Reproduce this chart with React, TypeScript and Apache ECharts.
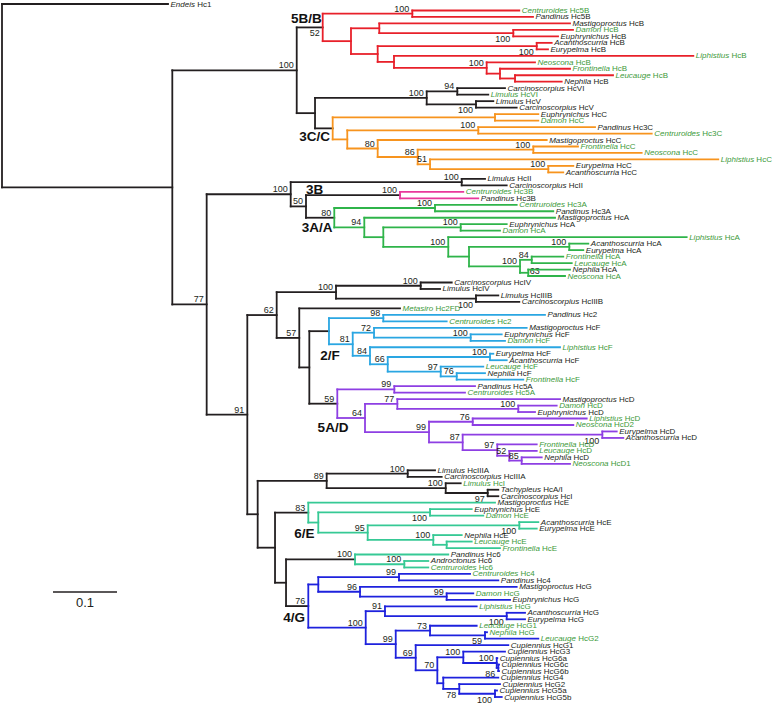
import React, { useEffect, useRef } from "react";
import * as echarts from "echarts";

// Internal nodes: [id, parent id, depth from root (substitutions/site), bootstrap support, support label side]
const nodes: [string, string, number, number, string][] = [
  ["root", "", 0, 0, ""],
  ["A", "root", 0.2661, 0, ""],
  ["B", "A", 0.4605, 100, ""],
  ["BB", "B", 0.5011, 52, "b"],
  ["b1", "BB", 0.6411, 100, ""],
  ["b2", "BB", 0.5453, 0, ""],
  ["b3", "b2", 0.5895, 0, ""],
  ["b4", "b3", 0.7989, 100, "b"],
  ["b5", "b2", 0.587, 0, ""],
  ["b6", "b5", 0.8355, 100, "b"],
  ["b7", "b5", 0.6125, 0, ""],
  ["b8", "b7", 0.7573, 100, ""],
  ["b9", "b8", 0.7781, 0, ""],
  ["b10", "b9", 0.8016, 0, ""],
  ["C", "B", 0.4891, 0, ""],
  ["c1", "C", 0.6636, 100, ""],
  ["c2", "c1", 0.7114, 94, ""],
  ["c3", "c1", 0.7406, 100, "b"],
  ["CC", "C", 0.5167, 0, ""],
  ["c4", "CC", 0.7703, 0, ""],
  ["c5", "CC", 0.5395, 0, ""],
  ["c6", "c5", 0.7442, 100, ""],
  ["c7", "c5", 0.587, 80, ""],
  ["c8", "c7", 0.6495, 86, ""],
  ["c9", "c8", 0.8302, 100, ""],
  ["c10", "c8", 0.6688, 51, ""],
  ["c11", "c10", 0.8536, 100, ""],
  ["N77", "A", 0.3198, 77, ""],
  ["D", "N77", 0.4511, 100, ""],
  ["d1", "D", 0.7183, 100, ""],
  ["d2", "D", 0.475, 50, ""],
  ["B3", "d2", 0.6219, 100, ""],
  ["AA", "d2", 0.5192, 80, ""],
  ["a1", "AA", 0.6766, 100, ""],
  ["a2", "AA", 0.5661, 94, ""],
  ["a3", "a2", 0.5958, 0, ""],
  ["a4", "a3", 0.7167, 100, ""],
  ["a5", "a3", 0.6973, 100, ""],
  ["a6", "a5", 0.7297, 0, ""],
  ["a7", "a6", 0.8864, 100, ""],
  ["a8", "a6", 0.8094, 100, ""],
  ["a9", "a8", 0.8277, 84, ""],
  ["a10", "a8", 0.8223, 63, "r"],
  ["N91", "N77", 0.3833, 91, ""],
  ["N62", "N91", 0.4292, 62, ""],
  ["e1", "N62", 0.5219, 100, ""],
  ["e2", "e1", 0.6542, 100, ""],
  ["e3", "e1", 0.7406, 100, "b"],
  ["N57", "N62", 0.4645, 57, ""],
  ["e4", "N57", 0.4802, 0, ""],
  ["FF", "e4", 0.5109, 0, ""],
  ["f1", "FF", 0.5958, 98, ""],
  ["f2", "FF", 0.548, 81, ""],
  ["f3", "f2", 0.5813, 72, ""],
  ["f4", "f3", 0.7323, 100, ""],
  ["f5", "f2", 0.575, 84, ""],
  ["f6", "f5", 0.6027, 66, ""],
  ["f7", "f6", 0.7625, 100, ""],
  ["f8", "f6", 0.6855, 97, ""],
  ["f9", "f8", 0.7105, 76, ""],
  ["DD", "e4", 0.5239, 59, ""],
  ["g1", "DD", 0.613, 99, ""],
  ["g2", "DD", 0.5672, 64, ""],
  ["g3", "g2", 0.6177, 77, ""],
  ["g4", "g3", 0.8067, 100, ""],
  ["g5", "g2", 0.6672, 99, ""],
  ["g6", "g5", 0.7355, 76, ""],
  ["g7", "g5", 0.7198, 87, ""],
  ["g8", "g7", 0.938, 100, "b"],
  ["g9", "g7", 0.7739, 97, ""],
  ["g10", "g9", 0.7927, 52, ""],
  ["g11", "g10", 0.812, 85, ""],
  ["E", "N91", 0.3995, 0, ""],
  ["h0", "E", 0.5073, 89, ""],
  ["h1", "h0", 0.6339, 100, ""],
  ["h2", "h0", 0.6933, 100, ""],
  ["h3", "h2", 0.7589, 97, "b"],
  ["F", "E", 0.4266, 0, ""],
  ["EE", "F", 0.4786, 83, ""],
  ["i1", "EE", 0.4942, 0, ""],
  ["i2", "i1", 0.6688, 100, "b"],
  ["i3", "i1", 0.5714, 95, ""],
  ["i4", "i3", 0.8083, 100, "b"],
  ["i5", "i3", 0.6739, 100, ""],
  ["i6", "i5", 0.6948, 0, ""],
  ["G", "F", 0.4438, 0, ""],
  ["H6", "G", 0.5516, 100, ""],
  ["j1", "H6", 0.6286, 100, ""],
  ["GG", "G", 0.4786, 76, ""],
  ["k1", "GG", 0.4942, 0, ""],
  ["k2", "k1", 0.6203, 99, ""],
  ["k3", "k1", 0.5594, 96, ""],
  ["k4", "k3", 0.6948, 99, ""],
  ["k5", "GG", 0.5683, 100, ""],
  ["k6", "k5", 0.5984, 91, ""],
  ["k7", "k6", 0.7886, 100, "b"],
  ["k8", "k5", 0.6152, 99, ""],
  ["k9", "k8", 0.6688, 73, ""],
  ["k10", "k9", 0.7547, 59, "b"],
  ["k11", "k8", 0.6464, 69, ""],
  ["k12", "k11", 0.6802, 70, ""],
  ["k13", "k12", 0.7208, 100, ""],
  ["k14", "k13", 0.773, 100, ""],
  ["k15", "k14", 0.7755, 86, "b"],
  ["k16", "k12", 0.6895, 0, ""],
  ["k17", "k16", 0.7145, 78, "b"],
  ["k18", "k17", 0.7703, 100, "b"],
];

// Leaves in top-to-bottom order: [genus, protein, parent id, depth from root, green label (1) or black (0)]
const leaves: [string, string, string, number, number][] = [
  ["Endeis", "Hc1", "root", 0.2594, 0],
  ["Centruroides", "Hc5B", "b1", 0.8083, 1],
  ["Pandinus", "Hc5B", "b1", 0.8297, 0],
  ["Mastigoproctus", "HcB", "b3", 0.8875, 0],
  ["Damon", "HcB", "b4", 0.8922, 1],
  ["Euphrynichus", "HcB", "b4", 0.8688, 0],
  ["Acanthoscurria", "HcB", "b6", 0.8589, 0],
  ["Eurypelma", "HcB", "b6", 0.8531, 0],
  ["Liphistius", "HcB", "b7", 1.0802, 1],
  ["Neoscona", "HcB", "b8", 0.8328, 1],
  ["Frontinella", "HcB", "b9", 0.8875, 1],
  ["Leucauge", "HcB", "b10", 0.9547, 1],
  ["Nephila", "HcB", "b10", 0.8745, 0],
  ["Carcinoscorpius", "HcVI", "c2", 0.7859, 0],
  ["Limulus", "HcVI", "c2", 0.7598, 1],
  ["Limulus", "HcV", "c3", 0.7677, 0],
  ["Carcinoscorpius", "HcV", "c3", 0.8042, 0],
  ["Euphrynichus", "HcC", "c4", 0.838, 0],
  ["Damon", "HcC", "c4", 0.838, 1],
  ["Pandinus", "Hc3C", "c6", 0.9266, 0],
  ["Centruroides", "Hc3C", "c6", 1.0152, 1],
  ["Mastigoproctus", "HcC", "c7", 0.8511, 0],
  ["Frontinella", "HcC", "c9", 0.9, 1],
  ["Neoscona", "HcC", "c9", 0.9995, 1],
  ["Liphistius", "HcC", "c10", 1.1192, 1],
  ["Eurypelma", "HcC", "c11", 0.8927, 0],
  ["Acanthoscurria", "HcC", "c11", 0.877, 0],
  ["Limulus", "HcII", "d1", 0.7547, 0],
  ["Carcinoscorpius", "HcII", "d1", 0.7886, 0],
  ["Centruroides", "Hc3B", "B3", 0.7208, 1],
  ["Pandinus", "Hc3B", "B3", 0.7442, 0],
  ["Centruroides", "Hc3A", "a1", 0.8042, 1],
  ["Pandinus", "Hc3A", "a1", 0.8614, 0],
  ["Mastigoproctus", "HcA", "a2", 0.8641, 0],
  ["Euphrynichus", "HcA", "a4", 0.7886, 0],
  ["Damon", "HcA", "a4", 0.7781, 1],
  ["Liphistius", "HcA", "a5", 1.0698, 1],
  ["Acanthoscurria", "HcA", "a7", 0.9161, 0],
  ["Eurypelma", "HcA", "a7", 0.9083, 0],
  ["Frontinella", "HcA", "a9", 0.877, 1],
  ["Leucauge", "HcA", "a9", 0.8902, 1],
  ["Nephila", "HcA", "a10", 0.8875, 0],
  ["Neoscona", "HcA", "a10", 0.8797, 1],
  ["Carcinoscorpius", "HcIV", "e2", 0.7027, 0],
  ["Limulus", "HcIV", "e2", 0.6844, 0],
  ["Limulus", "HcIIIB", "e3", 0.7755, 0],
  ["Carcinoscorpius", "HcIIIB", "e3", 0.8083, 0],
  ["Metasiro", "Hc2FD", "N57", 0.6219, 1],
  ["Pandinus", "Hc2", "f1", 0.8484, 0],
  ["Centruroides", "Hc2", "f1", 0.6948, 1],
  ["Mastigoproctus", "HcF", "f3", 0.8198, 0],
  ["Euphrynichus", "HcF", "f4", 0.7808, 0],
  ["Damon", "HcF", "f4", 0.7859, 1],
  ["Liphistius", "HcF", "f5", 0.8719, 1],
  ["Eurypelma", "HcF", "f7", 0.7677, 0],
  ["Acanthoscurria", "HcF", "f7", 0.7886, 0],
  ["Leucauge", "HcF", "f8", 0.752, 1],
  ["Nephila", "HcF", "f9", 0.7547, 0],
  ["Frontinella", "HcF", "f9", 0.8145, 1],
  ["Pandinus", "Hc5A", "g1", 0.7391, 0],
  ["Centruroides", "Hc5A", "g1", 0.7234, 1],
  ["Mastigoproctus", "HcD", "g3", 0.8719, 0],
  ["Damon", "HcD", "g4", 0.8667, 1],
  ["Euphrynichus", "HcD", "g4", 0.8328, 0],
  ["Liphistius", "HcD", "g6", 0.9136, 1],
  ["Neoscona", "HcD2", "g6", 0.8927, 1],
  ["Eurypelma", "HcD", "g8", 0.9605, 0],
  ["Acanthoscurria", "HcD", "g8", 0.9708, 0],
  ["Frontinella", "HcD", "g9", 0.8355, 1],
  ["Leucauge", "HcD", "g10", 0.8355, 1],
  ["Nephila", "HcD", "g11", 0.8433, 0],
  ["Neoscona", "HcD1", "g11", 0.8875, 1],
  ["Limulus", "HcIIIA", "h1", 0.6766, 0],
  ["Carcinoscorpius", "HcIIIA", "h1", 0.687, 0],
  ["Limulus", "HcI", "h2", 0.7167, 1],
  ["Tachypleus", "HcA/I", "h3", 0.7755, 0],
  ["Carcinoscorpius", "HcI", "h3", 0.7755, 0],
  ["Mastigoproctus", "HcE", "EE", 0.7703, 0],
  ["Euphrynichus", "HcE", "i2", 0.7339, 0],
  ["Damon", "HcE", "i2", 0.752, 1],
  ["Acanthoscurria", "HcE", "i4", 0.838, 0],
  ["Eurypelma", "HcE", "i4", 0.8355, 0],
  ["Nephila", "HcE", "i5", 0.7183, 0],
  ["Leucauge", "HcE", "i6", 0.7339, 1],
  ["Frontinella", "HcE", "i6", 0.7781, 1],
  ["Pandinus", "Hc6", "H6", 0.6973, 0],
  ["Androctonus", "Hc6", "j1", 0.6661, 0],
  ["Centruroides", "Hc6", "j1", 0.6661, 1],
  ["Centruroides", "Hc4", "k2", 0.7313, 1],
  ["Pandinus", "Hc4", "k2", 0.7755, 0],
  ["Mastigoproctus", "HcG", "k3", 0.8042, 0],
  ["Damon", "HcG", "k4", 0.7364, 1],
  ["Euphrynichus", "HcG", "k4", 0.7938, 0],
  ["Liphistius", "HcG", "k6", 0.7417, 1],
  ["Acanthoscurria", "HcG", "k7", 0.8172, 0],
  ["Eurypelma", "HcG", "k7", 0.8172, 0],
  ["Leucauge", "HcG1", "k9", 0.7417, 1],
  ["Nephila", "HcG", "k10", 0.7578, 1],
  ["Leucauge", "HcG2", "k10", 0.838, 1],
  ["Cupiennius", "HcG1", "k11", 0.7911, 0],
  ["Cupiennius", "HcG3", "k13", 0.7859, 0],
  ["Cupiennius", "HcG6a", "k14", 0.7739, 0],
  ["Cupiennius", "HcG6c", "k15", 0.7766, 0],
  ["Cupiennius", "HcG6b", "k15", 0.7766, 0],
  ["Cupiennius", "HcG4", "k16", 0.7755, 0],
  ["Cupiennius", "HcG2", "k17", 0.7781, 0],
  ["Cupiennius", "HcG5a", "k18", 0.7734, 0],
  ["Cupiennius", "HcG5b", "k18", 0.7808, 0],
];

// Clades: [node id, clade name]
const clades: [string, string][] = [
  ["BB", "5B/B"],
  ["CC", "3C/C"],
  ["B3", "3B"],
  ["AA", "3A/A"],
  ["FF", "2/F"],
  ["DD", "5A/D"],
  ["EE", "6/E"],
  ["H6", ""],
  ["GG", "4/G"],
];

// Scale bar: [start depth, length, leaf row]
const scaleBar: [number, number, number] = [0.0797, 0.1, 90.78];

// ---- styles ----
const cladeColors: Record<string, string> = {
  BB: "#e8202a",
  CC: "#f7941e",
  B3: "#e8379b",
  AA: "#2fb44a",
  FF: "#2aa6e2",
  DD: "#8e3fe3",
  EE: "#36c995",
  H6: "#36c995",
  GG: "#1e22dd",
};
// clade label centre offsets (px) from the clade node
const cladeLabelOffsets: Record<string, [number, number]> = {
  BB: [-16.4, -8.5],
  CC: [-18, 8.3],
  B3: [-85.3, -5.6],
  AA: [-17.1, 9.5],
  FF: [1, 24.6],
  DD: [-4.3, 23.4],
  EE: [-4, 20.4],
  GG: [-14.1, 11],
};
const BLACK = "#231f20";
const GREEN_TEXT = "#3d9a3a";
const FONT = "'Liberation Sans', Arial, Helvetica, sans-serif";
const LW = 1.8;

type TNode = {
  id: string;
  parent: TNode | null;
  depth: number;
  support: number;
  side: string;
  children: TNode[];
  y: number;
  minLeaf: number;
  leaf: [string, string, number] | null;
  color: string;
};

function buildTree() {
  const map: Record<string, TNode> = {};
  const all: TNode[] = [];
  nodes.forEach(([id, , depth, support, side]) => {
    const n: TNode = { id, parent: null, depth, support, side, children: [], y: 0, minLeaf: Infinity, leaf: null, color: BLACK };
    map[id] = n;
    all.push(n);
  });
  nodes.forEach(([id, parent]) => {
    if (parent) {
      map[id].parent = map[parent];
      map[parent].children.push(map[id]);
    }
  });
  leaves.forEach(([genus, prot, parent, depth, green], i) => {
    const n: TNode = { id: "L" + i, parent: map[parent], depth, support: 0, side: "", children: [], y: i, minLeaf: i, leaf: [genus, prot, green], color: BLACK };
    map[parent].children.push(n);
    all.push(n);
  });
  const cladeColorMap: Record<string, string> = {};
  clades.forEach(([id]) => (cladeColorMap[id] = cladeColors[id]));
  const calc = (n: TNode): void => {
    n.color = cladeColorMap[n.id] || (n.parent ? n.parent.color : BLACK);
    if (n.leaf) return;
    n.children.forEach(calc);
    n.children.sort((a, b) => a.minLeaf - b.minLeaf);
    n.minLeaf = n.children[0].minLeaf;
    n.y = (n.children[0].y + n.children[n.children.length - 1].y) / 2;
  };
  calc(map.root);
  const cladeNames: Record<string, string> = {};
  clades.forEach(([id, name]) => (cladeNames[id] = name));
  return { all, cladeNames };
}

export default function App() {
  const ref = useRef<HTMLDivElement>(null);
  useEffect(() => {
    if (!ref.current) return;
    const chart = echarts.init(ref.current, undefined, { renderer: "svg" });
    const { all, cladeNames } = buildTree();

    const renderNode = (params: any, api: any) => {
      const n = all[params.dataIndex];
      const els: any[] = [];
      const p = api.coord([n.depth, n.y]);
      if (n.parent) {
        const q = api.coord([n.parent.depth, n.y]);
        els.push({
          type: "line",
          shape: { x1: q[0], y1: q[1], x2: p[0], y2: p[1] },
          style: { stroke: n.parent.color, lineWidth: LW, lineCap: "square" },
        });
      }
      if (!n.leaf && n.children.length) {
        const a = api.coord([n.depth, n.children[0].y]);
        const b = api.coord([n.depth, n.children[n.children.length - 1].y]);
        els.push({
          type: "line",
          shape: { x1: a[0], y1: a[1], x2: b[0], y2: b[1] },
          style: { stroke: n.color, lineWidth: LW, lineCap: "square" },
        });
      }
      if (n.leaf) {
        const fill = n.leaf[2] ? GREEN_TEXT : BLACK;
        els.push({
          type: "text",
          x: p[0] + 2.5,
          y: p[1],
          style: {
            text: "{i|" + n.leaf[0] + "} " + n.leaf[1],
            fill,
            fontSize: 8,
            fontFamily: FONT,
            align: "left",
            verticalAlign: "middle",
            textAlign: "left",
            textVerticalAlign: "middle",
            rich: { i: { fontStyle: "italic", fontSize: 8, fontFamily: FONT, fill } },
          },
        });
      }
      if (n.support) {
        let x = p[0] - 3;
        let y = p[1] - 0.5;
        let align = "right";
        let va = "bottom";
        if (n.side === "b") {
          y = p[1] + 1.5;
          va = "top";
        } else if (n.side === "r") {
          x = p[0] + 1.5;
          y = p[1] - 1.5;
          align = "left";
          va = "middle";
        }
        els.push({
          type: "text",
          x,
          y,
          style: {
            text: String(n.support),
            fill: BLACK,
            fontSize: 9,
            fontFamily: FONT,
            align,
            verticalAlign: va,
            textAlign: align,
            textVerticalAlign: va,
          },
        });
      }
      if (cladeNames[n.id]) {
        const off = cladeLabelOffsets[n.id] || [0, 0];
        els.push({
          type: "text",
          x: p[0] + off[0],
          y: p[1] + off[1],
          style: {
            text: cladeNames[n.id],
            fill: "#111",
            fontSize: 13.5,
            fontWeight: "bold",
            fontFamily: FONT,
            align: "center",
            verticalAlign: "middle",
            textAlign: "center",
            textVerticalAlign: "middle",
          },
        });
      }
      return { type: "group", children: els };
    };

    const renderScale = (params: any, api: any) => {
      const a = api.coord([scaleBar[0], scaleBar[2]]);
      const b = api.coord([scaleBar[0] + scaleBar[1], scaleBar[2]]);
      return {
        type: "group",
        children: [
          {
            type: "line",
            shape: { x1: a[0], y1: a[1], x2: b[0], y2: b[1] },
            style: { stroke: BLACK, lineWidth: 1.6 },
          },
          {
            type: "text",
            x: (a[0] + b[0]) / 2,
            y: a[1] + 11,
            style: {
              text: String(scaleBar[1]),
              fill: BLACK,
              fontSize: 13,
              fontFamily: FONT,
              align: "center",
              verticalAlign: "middle",
              textAlign: "center",
              textVerticalAlign: "middle",
            },
          },
        ],
      };
    };

    chart.setOption({
      animation: false,
      backgroundColor: "#fff",
      grid: { left: 2, right: 0, top: 4, bottom: 7 },
      xAxis: { type: "value", min: 0, max: 1.2125, show: false },
      yAxis: { type: "value", min: 0, max: leaves.length - 1, inverse: true, show: false },
      series: [
        {
          type: "custom",
          silent: true,
          clip: false,
          renderItem: renderNode,
          encode: { x: 0, y: 1 },
          data: all.map((n) => [n.depth, n.y]),
        },
        {
          type: "custom",
          silent: true,
          clip: false,
          renderItem: renderScale,
          encode: { x: 0, y: 1 },
          data: [[scaleBar[0], scaleBar[2]]],
        },
      ],
    });
    return () => chart.dispose();
  }, []);
  return (
    <div
      ref={ref}
      style={{ position: "absolute", left: 0, top: 0, width: 778, height: 704, background: "#fff" }}
    />
  );
}
